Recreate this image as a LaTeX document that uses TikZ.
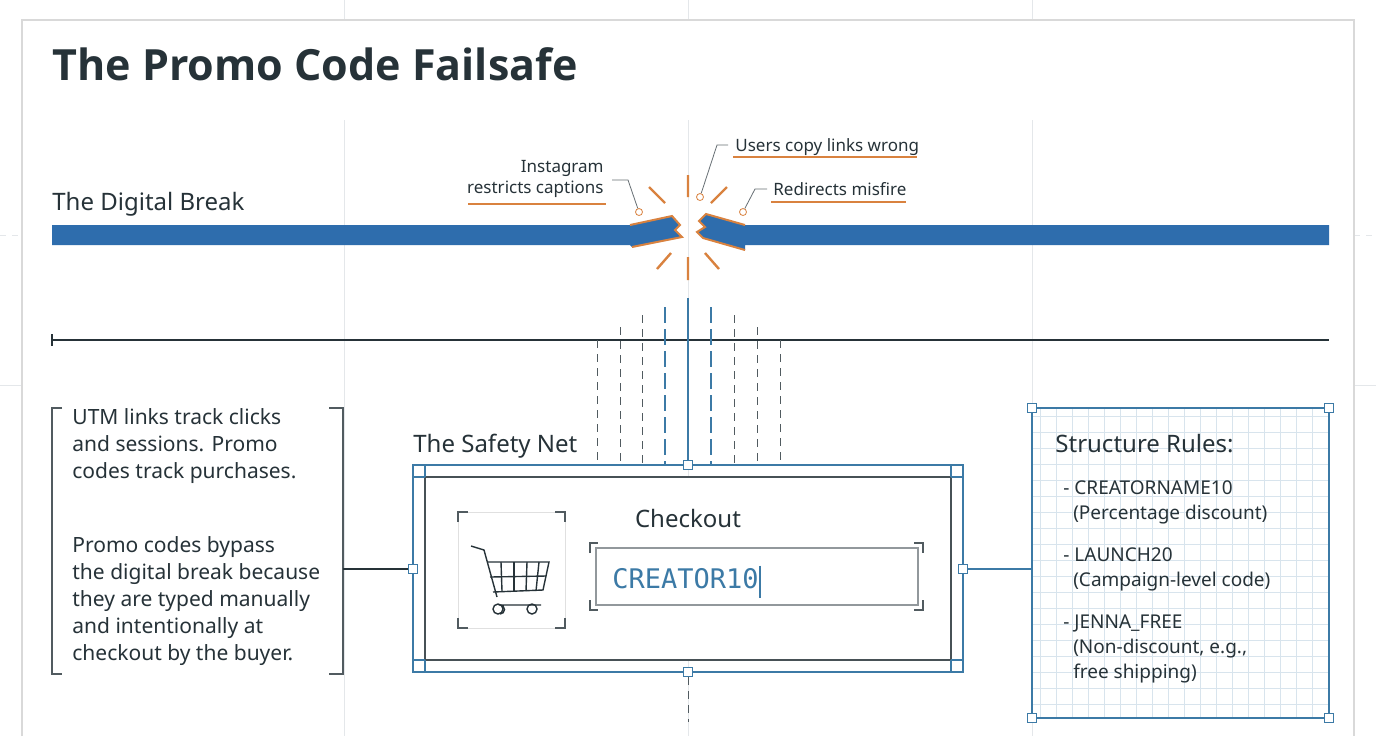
\documentclass[tikz,border=0pt]{standalone}
\usepackage{fontspec}
\setmainfont{Noto Sans}
\newfontfamily\titlefont{Open Sans}
\newfontfamily\codefont{DejaVu Sans Mono}
\definecolor{ink}{HTML}{263238}
\definecolor{bblue}{HTML}{2E6DAD}
\definecolor{oran}{HTML}{D9823F}
\definecolor{frame}{HTML}{3C7AA6}
\definecolor{faint}{HTML}{E4E7EA}
\begin{document}
\begin{tikzpicture}[x=0.5pt,y=-0.5pt,
  txt/.style={font=\fontsize{10.5}{13.5}\selectfont,text=ink,inner sep=0pt},
  lbl/.style={font=\fontsize{8.5}{10.5}\selectfont,text=ink,inner sep=1pt},
  uline/.style={draw=oran,line width=0.6pt},
  burst/.style={draw=oran,line width=1.2pt},
  handle/.style={draw=frame,fill=white,line width=0.6pt,minimum size=4.5pt,inner sep=0pt,rectangle},
  dashg/.style={draw=ink!80,dash pattern=on 4pt off 3pt,line width=0.5pt},
  dashb/.style={draw=frame,dash pattern=on 8pt off 3pt,line width=0.8pt},
  bracket/.style={draw=ink!80,line width=0.7pt}]
\useasboundingbox (0,0) rectangle (1376,736);
\fill[white] (0,0) rectangle (1376,736);
% faint grid
\foreach \x in {344,688,1032} \draw[faint,line width=0.5pt] (\x,0)--(\x,20) (\x,120)--(\x,736);
\draw[faint,line width=0.5pt] (0,385)--(22,385) (1354,385)--(1376,385);
\draw[faint,dash pattern=on 3pt off 3pt] (0,235)--(22,235) (1354,235)--(1376,235);
\draw[black!15,line width=0.6pt] (22,736)--(22,20)--(1354,20)--(1354,736);
% title
\node[anchor=base west,font=\titlefont\bfseries\fontsize{21.5}{26}\selectfont,text=ink,inner sep=0pt] (title) at (52,80) {The Promo Code Failsafe};
\node[anchor=base west,txt,font=\fontsize{12}{14}\selectfont] (dbreak) at (52,210) {The Digital Break};
% broken bar
\fill[bblue] (52,225)--(630,225)--(672,216)--(680,225)--(675,230)--(682,237)--(672,239)--(632,247)--(630,245)--(52,245)--cycle;
\draw[oran,line width=1pt] (630,225)--(672,216)--(680,225)--(675,230)--(682,237)--(672,239)--(632,247);
\fill[bblue] (1329,225)--(745,225)--(706,214)--(699,221)--(705,227)--(697,232)--(703,238)--(745,250)--(745,245)--(1329,245)--cycle;
\draw[oran,line width=1pt] (745,225)--(706,214)--(699,221)--(705,227)--(697,232)--(703,238)--(745,250);
% burst
\draw[burst] (688,175)--(688,197) (649,187)--(665,203) (727,187)--(711,203)
  (688,257)--(688,280) (657,269)--(671,253) (705,253)--(719,269);
% labels
\node[lbl,align=right,anchor=south east] (insta) at (606,200) {Instagram\\restricts captions};
\draw[uline] (468,204)--(606,204);
\node[draw=oran,circle,minimum size=3.5pt,inner sep=0pt,fill=white] (c1) at (639,212) {};
\draw[ink!70,line width=0.4pt] (612,180)--(628,180)--(c1);
\node[lbl,anchor=base west] (users) at (733,151) {Users copy links wrong};
\draw[uline] (733,157)--(917,157);
\node[draw=oran,circle,minimum size=3.5pt,inner sep=0pt,fill=white] (c2) at (700,197) {};
\draw[ink!70,line width=0.4pt] (728,145)--(717,145)--(c2);
\node[lbl,anchor=base west] (redir) at (771,195) {Redirects misfire};
\draw[uline] (771,202)--(906,202);
\node[draw=oran,circle,minimum size=3.5pt,inner sep=0pt,fill=white] (c3) at (743,212) {};
\draw[ink!70,line width=0.4pt] (767,189)--(755,189)--(c3);
% timeline
\draw[ink,line width=0.6pt] (52,340)--(1329,340) (52,334)--(52,346);
% rays
\draw[dashg] (597,340)--(597,465) (780,340)--(780,465) (620,327)--(620,465) (757,327)--(757,465) (642,315)--(642,465) (734,315)--(734,465);
\draw[dashb] (665,307)--(665,465) (711,307)--(711,465);
\draw[frame,line width=0.9pt] (688,298)--(688,465);
% safety net
\node[anchor=base west,txt,font=\fontsize{12}{14}\selectfont] (snet) at (413,452) {The Safety Net};
\draw[frame,line width=0.7pt] (413,465) rectangle (963,672);
\draw[ink!85,line width=0.8pt,fill=white] (425,477) rectangle (951,660);
\draw[frame,line width=0.6pt] (425,477)--(425,465) (425,477)--(413,477) (951,477)--(951,465) (951,477)--(963,477)
  (425,660)--(425,672) (425,660)--(413,660) (951,660)--(951,672) (951,660)--(963,660);
\node[handle] (ht) at (688,465) {};
\node[handle] (hb) at (688,672) {};
\node[handle] (hl) at (413,569) {};
\node[handle] (hr) at (963,569) {};
% cart box
\draw[black!12] (458,512) rectangle (565,628);
\draw[bracket] (458,522)--(458,512)--(468,512) (555,512)--(565,512)--(565,522) (458,618)--(458,628)--(468,628) (555,628)--(565,628)--(565,618);
\begin{scope}[ink,line width=0.7pt]
\draw (471,546)--(484,550)--(497,597);
\draw (487,562)--(549,562)--(543,590)--(493,592);
\draw (490,577)--(546,576);
\foreach \x/\y in {501/502,514/514,527/526,539/536} \draw (\x,562)--(\y,591);
\draw (541,605)--(500,605) arc (90:270:-4.5);
\draw (498,609) circle (5) (532,609) circle (5);
\end{scope}
\node[anchor=base,txt,font=\fontsize{12}{14}\selectfont] (chk) at (688,527) {Checkout};
\node[draw=ink!50,line width=0.7pt,minimum width=161pt,minimum height=28.5pt,inner sep=0pt] (input) at (757,576.5) {};
\draw[bracket] (590,553)--(590,543)--(598,543) (914,543)--(923,543)--(923,553) (590,600)--(590,610)--(598,610) (914,610)--(923,610)--(923,600);
\node[anchor=base west,font=\codefont\fontsize{13.5}{14}\selectfont,text=frame,inner sep=0pt] (code) at (612,588) {CREATOR10};
\draw[frame,line width=0.8pt] (code.north east)++(1,-2)--++(0,32);
\draw[dashg] (hb)--(688,722);
% left text
\node[txt,align=left,anchor=north west] (t1) at (72,408) {UTM links track clicks\\and sessions. Promo\\codes track purchases.};
\node[txt,align=left,anchor=north west] (t2) at (72,536) {Promo codes bypass\\the digital break because\\they are typed manually\\and intentionally at\\checkout by the buyer.};
\draw[bracket] (62,408)--(52,408)--(52,674)--(62,674) (329,408)--(343,408)--(343,674)--(329,674);
\coordinate (lb) at (343,569);
\draw[ink,line width=0.6pt] (lb)--(hl);
% rules box
\fill[white] (1032,408) rectangle (1329,718);
\foreach \x in {1040,1056,...,1328} \draw[frame!20,line width=0.3pt] (\x,408)--(\x,718);
\foreach \y in {416,432,...,717} \draw[frame!20,line width=0.3pt] (1032,\y)--(1329,\y);
\draw[frame,line width=0.9pt] (1032,408) rectangle (1329,718);
\node[handle] (r1) at (1032,408) {};
\node[handle] (r2) at (1329,408) {};
\node[handle] (r3) at (1032,718) {};
\node[handle] (r4) at (1329,718) {};
\coordinate (rl) at (1032,569);
\draw[frame,line width=0.9pt] (hr)--(rl);
\node[txt,anchor=base west,font=\fontsize{12}{14}\selectfont] (rt) at (1055,452) {Structure Rules:};
\node[txt,anchor=north west,align=left,font=\fontsize{9.5}{12.5}\selectfont] (rr1) at (1063,480) {- CREATORNAME10\\\ \ (Percentage discount)};
\node[txt,anchor=north west,align=left,font=\fontsize{9.5}{12.5}\selectfont] (rr2) at (1063,547) {- LAUNCH20\\\ \ (Campaign-level code)};
\node[txt,anchor=north west,align=left,font=\fontsize{9.5}{12.5}\selectfont] (rr3) at (1063,614) {- JENNA\_FREE\\\ \ (Non-discount, e.g.,\\\ \ free shipping)};
\end{tikzpicture}
\end{document}
